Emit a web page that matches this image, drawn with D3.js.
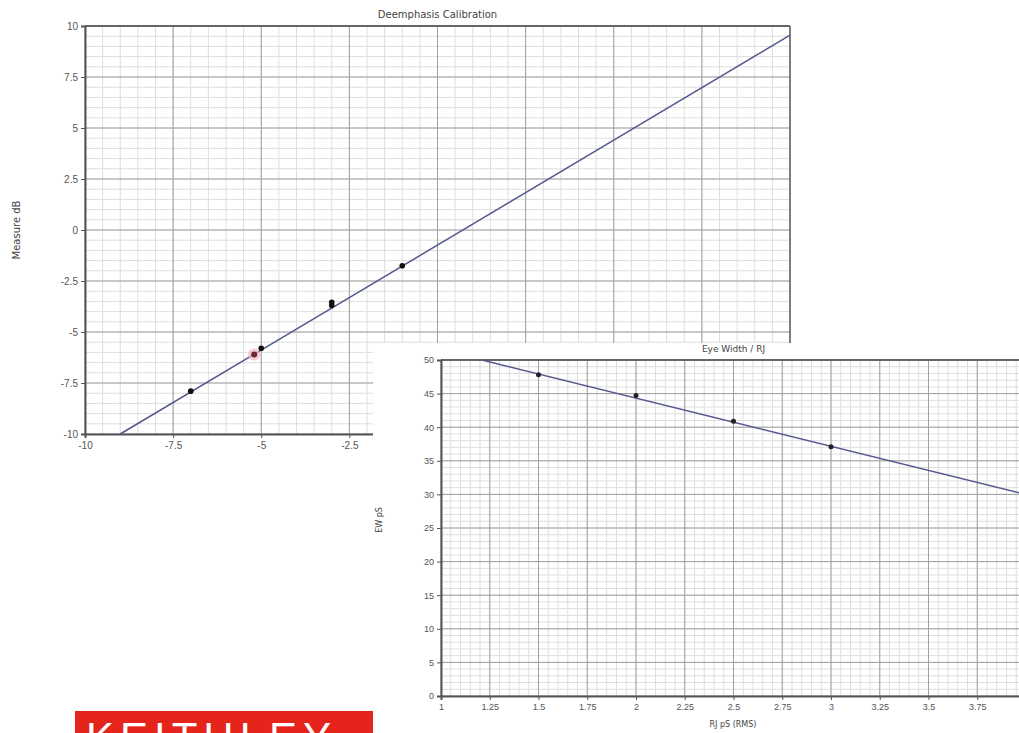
<!DOCTYPE html>
<html>
<head>
<meta charset="utf-8">
<script src="https://cdn.jsdelivr.net/npm/d3@7"></script>
<style>
  body { margin: 0; background: #fff; }
  svg { display: block; font-family: "DejaVu Sans", sans-serif; }
  .tick text { fill: #555; font-size: 10px; }
  .tick line { stroke: #555; }
  .domain { stroke: #555; stroke-width: 2px; }
</style>
</head>
<body>
<svg width="1019" height="733"></svg>
<script>
// Deemphasis calibration: measured points and fitted line
const deemphX = [-7, -5, -3, -3, -1];
const deemphY = [-7.9, -5.8, -3.55, -3.7, -1.75];
const deemphRedX = [-5.2];
const deemphRedY = [-6.1];
const deemphFitX = [-9, 10];
const deemphFitY = [-10, 9.55];
const deemphTicks = [-10, -7.5, -5, -2.5, 0, 2.5, 5, 7.5, 10];

// Eye width vs RJ
const ewX = [1.5, 2, 2.5, 3];
const ewY = [47.8, 44.7, 40.9, 37.1];
const ewFitX = [1.21, 4];
const ewFitY = [50, 30];
const ewXTicks = [1, 1.25, 1.5, 1.75, 2, 2.25, 2.5, 2.75, 3, 3.25, 3.5, 3.75, 4];
const ewYTicks = [0, 5, 10, 15, 20, 25, 30, 35, 40, 45, 50];

const svg = d3.select("svg");

// draws one grid chart into g
function drawChart(g, opt) {
  let x = d3.scaleLinear().domain(opt.xDomain).range([opt.left, opt.right]);
  let y = d3.scaleLinear().domain(opt.yDomain).range([opt.bottom, opt.top]);

  let grid = g.append("g");
  // fine grid
  grid.selectAll(".vx").data(d3.range(opt.xDomain[0], opt.xDomain[1] + 1e-9, opt.xMinor))
    .enter().append("line")
    .attr("x1", d => x(d)).attr("x2", d => x(d))
    .attr("y1", opt.top).attr("y2", opt.bottom)
    .attr("stroke", "#dedede").attr("stroke-width", 1);
  grid.selectAll(".hy").data(d3.range(opt.yDomain[0], opt.yDomain[1] + 1e-9, opt.yMinor))
    .enter().append("line")
    .attr("y1", d => y(d)).attr("y2", d => y(d))
    .attr("x1", opt.left).attr("x2", opt.right)
    .attr("stroke", "#dedede").attr("stroke-width", 1);
  // major grid
  grid.selectAll(".mx").data(opt.xTicks)
    .enter().append("line")
    .attr("x1", d => x(d)).attr("x2", d => x(d))
    .attr("y1", opt.top).attr("y2", opt.bottom)
    .attr("stroke", "#a0a0a0").attr("stroke-width", 1);
  grid.selectAll(".my").data(opt.yTicks)
    .enter().append("line")
    .attr("y1", d => y(d)).attr("y2", d => y(d))
    .attr("x1", opt.left).attr("x2", opt.right)
    .attr("stroke", "#a0a0a0").attr("stroke-width", 1);

  // frame
  g.append("line").attr("x1", opt.left).attr("x2", opt.right)
    .attr("y1", opt.top).attr("y2", opt.top)
    .attr("stroke", "#666").attr("stroke-width", 2);
  if (opt.rightFrame) {
    g.append("line").attr("x1", opt.right).attr("x2", opt.right)
      .attr("y1", opt.top).attr("y2", opt.bottom)
      .attr("stroke", "#666").attr("stroke-width", 1.5);
  }

  g.append("g")
    .attr("transform", "translate(0," + opt.bottom + ")")
    .call(d3.axisBottom(x).tickValues(opt.xTicks).tickSize(4).tickPadding(4)
      .tickFormat(d => opt.fmt(d)));
  g.append("g")
    .attr("transform", "translate(" + opt.left + ",0)")
    .call(d3.axisLeft(y).tickValues(opt.yTicks).tickSize(4).tickPadding(3)
      .tickFormat(d => opt.fmt(d)));

  // fit line
  let line = d3.line().x(d => x(d[0])).y(d => y(d[1]));
  g.append("path")
    .datum(d3.zip(opt.fitX, opt.fitY))
    .attr("d", line)
    .attr("fill", "none")
    .attr("stroke", "#55588f")
    .attr("stroke-width", 1.5);

  // title
  g.append("text")
    .attr("x", (opt.left + opt.right) / 2)
    .attr("y", opt.top - 8)
    .attr("text-anchor", "middle")
    .attr("font-size", opt.titleSize)
    .attr("fill", "#444")
    .text(opt.title);

  return { x: x, y: y };
}

const fmt = d => (d < 0 ? "-" : "") + d3.format("")(Math.abs(d));

// Chart 1
const g1 = svg.append("g");
const c1 = drawChart(g1, {
  left: 85, right: 790, top: 26, bottom: 434,
  xDomain: [-10, 10], yDomain: [-10, 10],
  xTicks: deemphTicks, yTicks: deemphTicks,
  xMinor: 0.5, yMinor: 0.5,
  fitX: deemphFitX, fitY: deemphFitY,
  rightFrame: true,
  title: "Deemphasis Calibration",
  titleSize: "10px",
  fmt: fmt
});

g1.append("g").selectAll("circle")
  .data(d3.zip(deemphRedX, deemphRedY))
  .enter().append("circle")
  .attr("cx", d => c1.x(d[0])).attr("cy", d => c1.y(d[1]))
  .attr("r", 6).attr("fill", "#f2b8c0").attr("opacity", 0.7);
g1.append("g").selectAll("circle")
  .data(d3.zip(deemphRedX, deemphRedY))
  .enter().append("circle")
  .attr("cx", d => c1.x(d[0])).attr("cy", d => c1.y(d[1]))
  .attr("r", 3).attr("fill", "#6a2a30");
g1.append("g").selectAll("circle")
  .data(d3.zip(deemphX, deemphY))
  .enter().append("circle")
  .attr("cx", d => c1.x(d[0])).attr("cy", d => c1.y(d[1]))
  .attr("r", 2.8).attr("fill", "#111");

g1.append("text")
  .attr("transform", "translate(20,230) rotate(-90)")
  .attr("text-anchor", "middle")
  .attr("font-size", "10px")
  .attr("fill", "#444")
  .text("Measure dB");

// Chart 2 overlays the first one
const g2 = svg.append("g");
g2.append("rect")
  .attr("x", 373).attr("y", 343)
  .attr("width", 700).attr("height", 400)
  .attr("fill", "#fff");

const c2 = drawChart(g2, {
  left: 441, right: 1026, top: 360, bottom: 696,
  xDomain: [1, 4], yDomain: [0, 50],
  xTicks: ewXTicks, yTicks: ewYTicks,
  xMinor: 0.05, yMinor: 1,
  fitX: ewFitX, fitY: ewFitY,
  rightFrame: false,
  title: "Eye Width / RJ",
  titleSize: "9px",
  fmt: d3.format("")
});

g2.selectAll(".tick text").style("font-size", "9px");

g2.append("g").selectAll("circle")
  .data(d3.zip(ewX, ewY))
  .enter().append("circle")
  .attr("cx", d => c2.x(d[0])).attr("cy", d => c2.y(d[1]))
  .attr("r", 2.5).attr("fill", "#222");

g2.append("text")
  .attr("transform", "translate(382,520) rotate(-90)")
  .attr("text-anchor", "middle")
  .attr("font-size", "8px")
  .attr("fill", "#444")
  .text("EW pS");

g2.append("text")
  .attr("x", 733).attr("y", 727)
  .attr("text-anchor", "middle")
  .attr("font-size", "8px")
  .attr("fill", "#444")
  .text("RJ pS (RMS)");

// Keithley logo strip, cut by the bottom edge
const logo = svg.append("g");
logo.append("rect")
  .attr("x", 75).attr("y", 711)
  .attr("width", 298).attr("height", 30)
  .attr("fill", "#e5251c");
logo.append("text")
  .attr("x", 86).attr("y", 752)
  .attr("font-size", "42px")
  .attr("font-family", "Liberation Sans, sans-serif")
  .attr("letter-spacing", "6px")
  .attr("fill", "#fff")
  .text("KEITHLEY");
</script>
</body>
</html>
